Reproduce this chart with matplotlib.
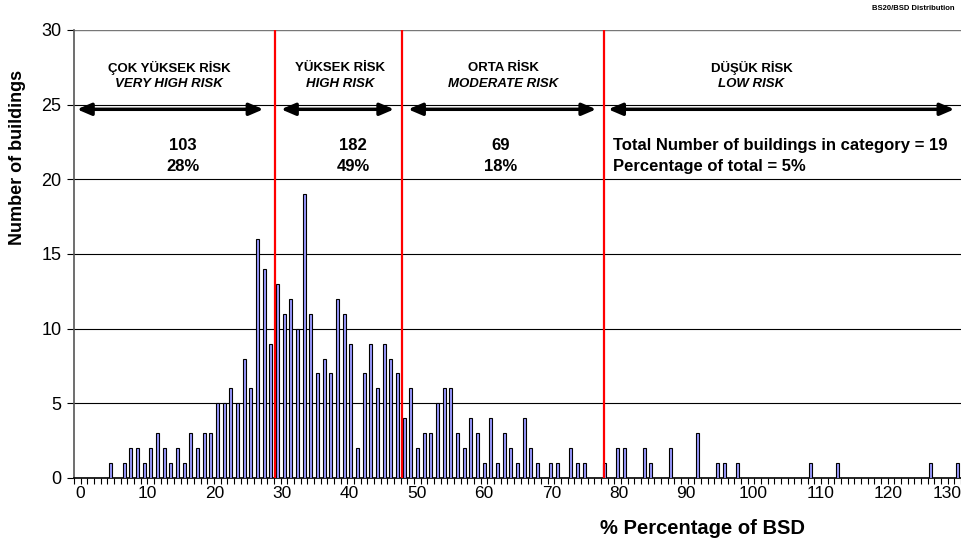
import numpy as np
import matplotlib.pyplot as plt

# Yazı tipi (Arial benzeri)
plt.rcParams['font.family'] = ['Liberation Sans', 'DejaVu Sans']

# BSD sınıfı (kategori sırası) ve bina sayısı
bsd_bin = [5, 7, 8, 9, 10, 11, 12, 13, 14, 15, 16, 17, 18, 19, 20, 21, 22, 23, 24,
           25, 26, 27, 28, 29,
           30, 31, 32, 33, 34, 35, 36, 37, 38, 39, 40, 41, 42, 43, 44, 45, 46, 47,
           48, 49,
           50, 51, 52, 53, 54, 55, 56, 57, 58, 59, 60, 61, 62, 63, 64, 65, 66, 67,
           68, 69, 71, 72, 74, 75, 76, 79,
           81, 82, 85, 86, 89, 93, 96, 97, 99, 110, 114, 128, 132]
n_buildings = [1, 1, 2, 2, 1, 2, 3, 2, 1, 2, 1, 3, 2, 3, 3, 5, 5, 6, 5,
               8, 6, 16, 14, 9,
               13, 11, 12, 10, 19, 11, 7, 8, 7, 12, 11, 9, 2, 7, 9, 6, 9, 8,
               7, 4,
               6, 2, 3, 3, 5, 6, 6, 3, 2, 4, 3, 1, 4, 1, 3, 2, 1, 4,
               2, 1, 1, 1, 2, 1, 1, 1,
               2, 2, 2, 1, 2, 3, 1, 1, 1, 1, 1, 1, 1]

tick_values = list(range(0, 131, 10))

# Risk sınıfları
risk_tr = ['ÇOK YÜKSEK RİSK', 'YÜKSEK RİSK', 'ORTA RİSK', 'DÜŞÜK RİSK']
risk_en = ['VERY HIGH RISK', 'HIGH RISK', 'MODERATE RISK', 'LOW RISK']
risk_count = [103, 182, 69, 19]
risk_pct = ['28%', '49%', '18%', '5%']
risk_limits = [30.1, 49.2, 79.4]   # kırmızı çizgiler (kategori ekseninde)

# Şekil
fig = plt.figure(figsize=(9.61, 5.45), dpi=100)
ax = fig.add_axes([74 / 961, 67 / 545, 887 / 961, 448 / 545])

# Çubuklar
x = np.array(bsd_bin) + 0.5
ax.bar(x, n_buildings, width=0.45, color='#9999ff', edgecolor='black',
       linewidth=0.8, zorder=3)

# Kırmızı sınır çizgileri
for lim in risk_limits:
    ax.axvline(lim, color='red', lw=1.6, zorder=4)

# Eksenler
ax.set_xlim(0, 133)
ax.set_ylim(0, 30)
ax.set_yticks(range(0, 31, 5))
ax.yaxis.grid(True, color='black', lw=0.8, zorder=0)
ax.axhline(30, color='#777777', lw=1.6, zorder=1)
ax.set_axisbelow(True)

# Etiket konumları (son etiket kenarda kesilmesin)
ax.set_xticks([min(0.9 + 1.0095 * v, 130.9) for v in tick_values])
ax.set_xticklabels([str(v) for v in tick_values])
ax.set_xticks(np.arange(0, 134), minor=True)
ax.tick_params(axis='x', which='major', length=0, labelsize=12.5, pad=6)
ax.tick_params(axis='x', which='minor', length=4.5, width=0.8, direction='out')
ax.tick_params(axis='y', length=5, width=0.8, labelsize=13, pad=4)

for s in ['top', 'right']:
    ax.spines[s].set_visible(False)
ax.spines['left'].set_color('#555555')
ax.spines['left'].set_linewidth(1.2)
ax.spines['bottom'].set_linewidth(1.2)

# Etiketler
fig.text(18 / 961, 1 - 157 / 545, 'Number of buildings', rotation=90,
         ha='center', va='center', fontsize=13, fontweight='bold')
fig.text(703 / 961, 1 - 528 / 545, '% Percentage of BSD',
         ha='center', va='center', fontsize=14.5, fontweight='bold')
fig.text(955 / 961, 1 - 8 / 545, 'BS20/BSD Distribution',
         ha='right', va='center', fontsize=5.5, fontweight='bold')

# Risk başlıkları ve oklar
head_x = [14.25, 39.9, 64.35, 101.6]
arrow_x = [(0.45, 28.4), (31.05, 48.0), (50.1, 78.3), (80.1, 132.0)]
for i in range(4):
    ax.text(head_x[i], 27.48, risk_tr[i], ha='center', va='center',
            fontsize=9.5, fontweight='bold')
    ax.text(head_x[i], 26.36, risk_en[i], ha='center', va='center',
            fontsize=9.5, fontweight='bold', fontstyle='italic')
    ax.annotate('', xy=(arrow_x[i][0], 24.69), xytext=(arrow_x[i][1], 24.69),
                arrowprops=dict(arrowstyle='<|-|>,head_length=0.7,head_width=0.3',
                                lw=2.5, color='black', mutation_scale=12,
                                shrinkA=0, shrinkB=0), zorder=5)

num_x = [16.35, 41.85, 63.9]
for i in range(3):
    ax.text(num_x[i], 22.28, str(risk_count[i]), ha='center', va='center',
            fontsize=12, fontweight='bold')
    ax.text(num_x[i], 20.87, risk_pct[i], ha='center', va='center',
            fontsize=12, fontweight='bold')

ax.text(80.85, 22.28, 'Total Number of buildings in category = %d' % risk_count[3],
        ha='left', va='center', fontsize=12, fontweight='bold')
ax.text(80.85, 20.87, 'Percentage of total = %s' % risk_pct[3],
        ha='left', va='center', fontsize=12, fontweight='bold')

plt.savefig('out.png', dpi=100)
